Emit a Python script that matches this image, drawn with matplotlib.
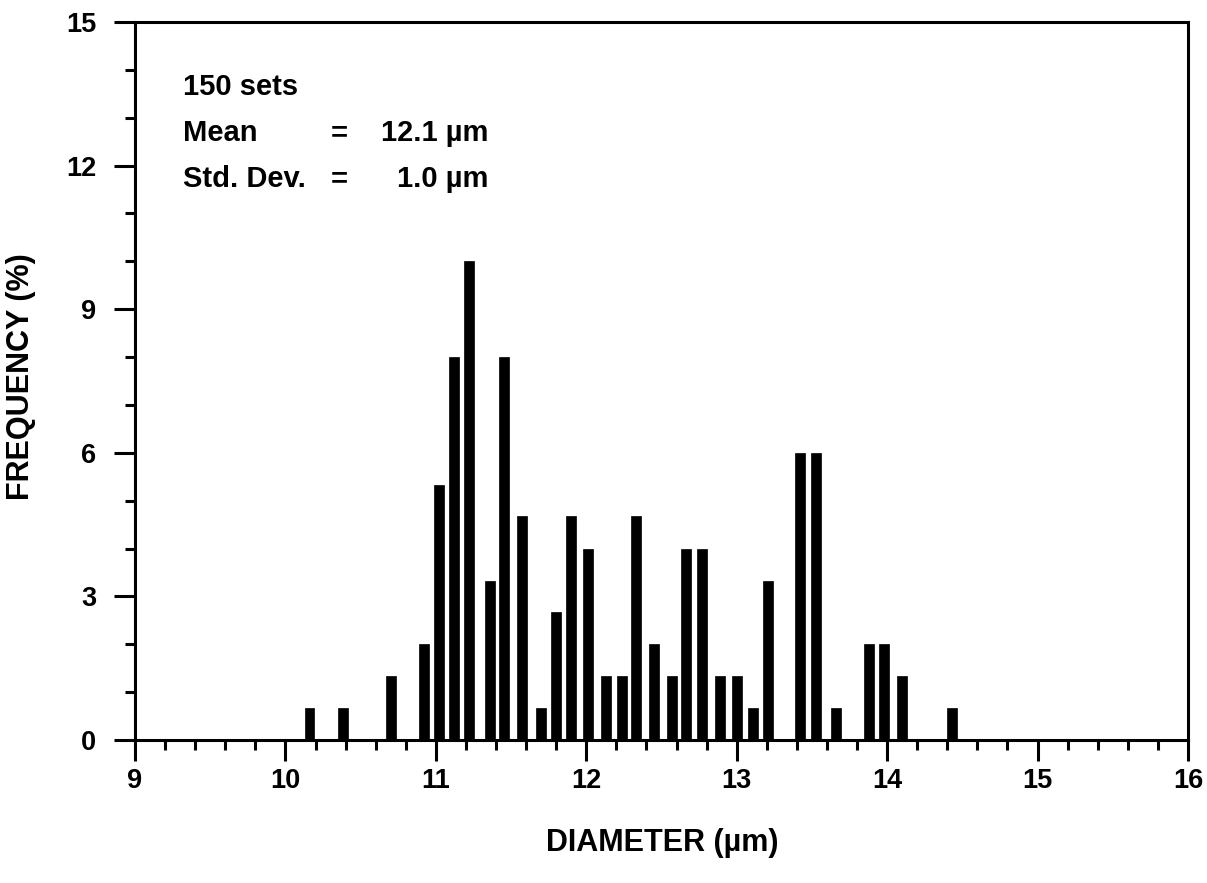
import matplotlib
matplotlib.use("Agg")
import matplotlib.pyplot as plt
from matplotlib.ticker import MultipleLocator

plt.rcParams['font.family'] = ['Liberation Sans', 'DejaVu Sans']
plt.rcParams['font.weight'] = 'bold'

# Bar centres (diameter, µm) and frequencies (%)
diameters = [10.16, 10.38, 10.70, 10.92, 11.02, 11.12, 11.22, 11.36, 11.45, 11.57,
             11.70, 11.80, 11.90, 12.01, 12.13, 12.24, 12.33, 12.45, 12.57, 12.66,
             12.77, 12.89, 13.00, 13.11, 13.21, 13.42, 13.53, 13.66, 13.88, 13.98,
             14.10, 14.43]
frequency = [0.67, 0.67, 1.33, 2.00, 5.33, 8.00, 10.00, 3.33, 8.00, 4.67,
             0.67, 2.67, 4.67, 4.00, 1.33, 1.33, 4.67, 2.00, 1.33, 4.00,
             4.00, 1.33, 1.33, 0.67, 3.33, 6.00, 6.00, 0.67, 2.00, 2.00,
             1.33, 0.67]
x_ticks = [9, 10, 11, 12, 13, 14, 15, 16]
y_ticks = [0, 3, 6, 9, 12, 15]
stats_labels = ["150 sets", "Mean", "Std. Dev."]
stats_values = ["", "12.1 µm", "1.0 µm"]
x_label = "DIAMETER (µm)"
y_label = "FREQUENCY (%)"

W, H = 1207, 883
fig = plt.figure(figsize=(W / 100, H / 100), dpi=100)
L, R, T, B = 135, 1188, 22, 740
ax = fig.add_axes([L / W, 1 - B / H, (R - L) / W, (B - T) / H])

ax.bar(diameters, frequency, width=0.066, color='black', edgecolor='black',
       linewidth=0.5, zorder=3)

ax.set_xlim(9, 16)
ax.set_ylim(0, 15)
ax.set_xticks(x_ticks)
ax.set_yticks(y_ticks)
ax.xaxis.set_minor_locator(MultipleLocator(0.2))
ax.yaxis.set_minor_locator(MultipleLocator(1))

for s in ax.spines.values():
    s.set_linewidth(2.2)
ax.tick_params(axis='both', which='major', direction='out', length=15, width=2.2,
               labelsize=19.5, top=False, right=False)
ax.tick_params(axis='x', which='major', pad=5)
ax.tick_params(axis='y', which='major', pad=13)
ax.tick_params(axis='both', which='minor', direction='out', length=7.5, width=2.2,
               top=False, right=False)
for lab in ax.get_xticklabels() + ax.get_yticklabels():
    lab.set_fontweight('bold')

# axis titles placed at pixel centres
fig.text(662 / W, 1 - 843 / H, x_label, fontsize=22, fontweight='bold',
         ha='center', va='center')
fig.text(21 / W, 1 - 377 / H, y_label, fontsize=22, fontweight='bold',
         ha='center', va='center', rotation=90)

# statistics text block (pixel positions converted to axes fraction)
def fx(px):
    return (px - L) / (R - L)

def fy(py):
    return (B - py) / (B - T)

ys = [87, 133, 179]
for lab, val, yy in zip(stats_labels, stats_values, ys):
    ax.text(fx(183), fy(yy), lab, transform=ax.transAxes, fontsize=21,
            fontweight='bold', ha='left', va='center')
    if val:
        ax.text(fx(331), fy(yy), "=", transform=ax.transAxes, fontsize=21,
                fontweight='bold', ha='left', va='center')
        ax.text(fx(488), fy(yy), val, transform=ax.transAxes, fontsize=21,
                fontweight='bold', ha='right', va='center')

fig.savefig("out.png", dpi=100)
